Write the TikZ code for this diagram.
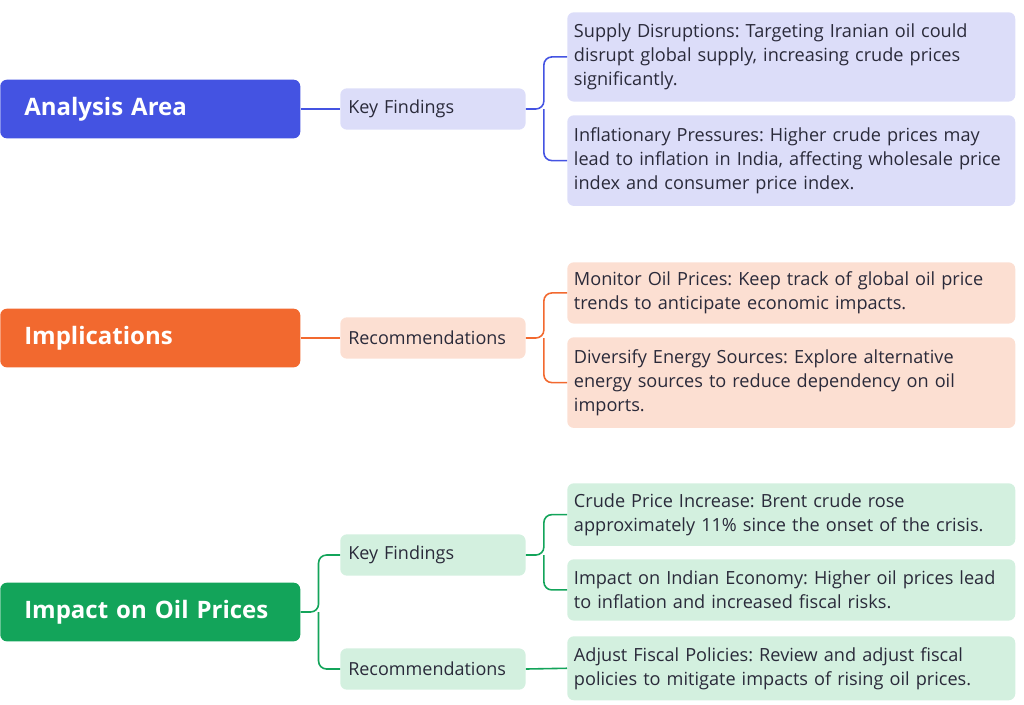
\documentclass[tikz,border=0pt]{standalone}
\usepackage{fontspec}
\setmainfont{Open Sans}
\frenchspacing
\hyphenpenalty=10000
\exhyphenpenalty=10000
\definecolor{blueA}{HTML}{4453E2}
\definecolor{blueL}{HTML}{DCDDF9}
\definecolor{orangeA}{HTML}{F2692F}
\definecolor{orangeL}{HTML}{FCDFD2}
\definecolor{greenA}{HTML}{13A45A}
\definecolor{greenL}{HTML}{D3F0DF}
\definecolor{txt}{HTML}{2A2A3A}
\begin{document}
\begin{tikzpicture}[x=0.75pt, y=-0.75pt,
    root/.style={rounded corners=5pt, minimum width=225pt, minimum height=44pt,
                 text=white, font=\fontsize{18}{20}\selectfont\bfseries, anchor=west, inner xsep=18pt, text width=189pt},
    mid/.style={rounded corners=5pt, minimum width=139pt, minimum height=31pt, text width=127pt,
                font=\fontsize{13.5}{16}\selectfont, text=txt, anchor=west, inner xsep=6pt, align=left},
    leaf/.style={rounded corners=5pt, text width=326pt, inner xsep=5pt, inner ysep=6pt,
                 font=\fontsize{13.6}{18}\selectfont, text=txt, anchor=north west, align=left},
    link/.style={line width=1.2pt, rounded corners=6pt},
  ]
  \useasboundingbox (0,0) rectangle (1024,704);
  % analysis area
  \node[root, fill=blueA] (ana) at (0,109) {Analysis Area};
  \node[mid, fill=blueL] (anakey) at (340,109) {Key Findings};
  \node[leaf, fill=blueL, minimum height=67pt] (ana1) at (567,12) {Supply Disruptions: Targeting Iranian oil could disrupt global supply, increasing crude prices significantly.};
  \node[leaf, fill=blueL, minimum height=68pt] (ana2) at (567,115) {Inflationary Pressures: Higher crude prices may lead to inflation in India, affecting wholesale price index and consumer price index.};
  \draw[link, blueA] (ana.east) -- (anakey.west);
  \draw[link, blueA] (anakey.east) -- ++(18,0) coordinate (anaj) |- (ana1.west);
  \draw[link, blueA] (anaj) |- (ana2.west);
  % implications
  \node[root, fill=orangeA] (imp) at (0,338) {Implications};
  \node[mid, fill=orangeL] (imprec) at (340,338) {Recommendations};
  \node[leaf, fill=orangeL, minimum height=46pt] (imp1) at (567,262) {Monitor Oil Prices: Keep track of global oil price trends to anticipate economic impacts.};
  \node[leaf, fill=orangeL, minimum height=68pt] (imp2) at (567,337) {Diversify Energy Sources: Explore alternative energy sources to reduce dependency on oil imports.};
  \draw[link, orangeA] (imp.east) -- (imprec.west);
  \draw[link, orangeA] (imprec.east) -- ++(18,0) coordinate (impj) |- (imp1.west);
  \draw[link, orangeA] (impj) |- (imp2.west);
  % impact on oil prices
  \node[root, fill=greenA] (oil) at (0,612) {Impact on Oil Prices};
  \node[mid, fill=greenL] (oilkey) at (340,555) {Key Findings};
  \node[mid, fill=greenL] (oilrec) at (340,669) {Recommendations};
  \node[leaf, fill=greenL, minimum height=47pt] (oil1) at (567,483) {Crude Price Increase: Brent crude rose approximately 11\% since the onset of the crisis.};
  \node[leaf, fill=greenL, minimum height=46pt] (oil2) at (567,559) {Impact on Indian Economy: Higher oil prices lead to inflation and increased fiscal risks.};
  \node[leaf, fill=greenL, minimum height=48pt] (oil3) at (567,636) {Adjust Fiscal Policies: Review and adjust fiscal policies to mitigate impacts of rising oil prices.};
  \draw[link, greenA] (oil.east) -- ++(18,0) coordinate (oilj) |- (oilkey.west);
  \draw[link, greenA] (oilj) |- (oilrec.west);
  \draw[link, greenA] (oilkey.east) -- ++(18,0) coordinate (oilk) |- (oil1.west);
  \draw[link, greenA] (oilk) |- (oil2.west);
  \draw[link, greenA] (oilrec.east) -- (oil3.west);
\end{tikzpicture}
\end{document}
